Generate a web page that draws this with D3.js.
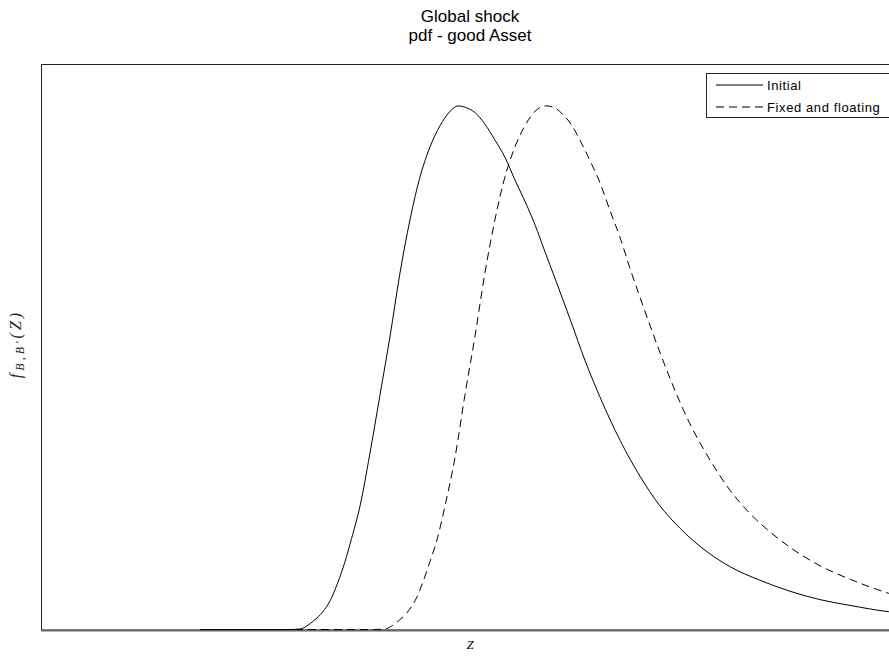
<!DOCTYPE html>
<html>
<head>
<meta charset="utf-8">
<script src="https://cdn.jsdelivr.net/npm/d3@7/dist/d3.min.js"></script>
<style>
  html, body { margin: 0; padding: 0; background: #fff; }
  svg { display: block; }
</style>
</head>
<body>
<svg id="chart" width="889" height="657"></svg>
<script>
// Density of the good asset before and after the global shock
const zInitial = [1.85, 2.44, 2.90, 3.02, 3.10, 3.18, 3.28, 3.37, 3.46, 3.54, 3.62, 3.72, 3.83, 3.95, 4.07, 4.18, 4.30, 4.42, 4.53, 4.65, 4.77, 4.86, 4.95, 5.06, 5.17, 5.29, 5.41, 5.52, 5.64, 5.76, 5.87, 5.99, 6.17, 6.34, 6.52, 6.75, 6.98, 7.21, 7.45, 7.68, 8.03, 8.38, 8.73, 9.08, 9.43, 9.88, 10.0];
const fInitial = [0, 0, 0, 0.001, 0.007, 0.017, 0.033, 0.055, 0.090, 0.128, 0.174, 0.237, 0.333, 0.447, 0.562, 0.677, 0.782, 0.866, 0.920, 0.962, 0.990, 1.000, 0.997, 0.987, 0.966, 0.935, 0.901, 0.860, 0.818, 0.772, 0.723, 0.671, 0.591, 0.514, 0.442, 0.361, 0.293, 0.237, 0.193, 0.159, 0.120, 0.094, 0.073, 0.057, 0.046, 0.034, 0.032];

const zFixed = [2.96, 3.48, 3.89, 4.01, 4.09, 4.17, 4.27, 4.36, 4.45, 4.53, 4.62, 4.71, 4.83, 4.94, 5.06, 5.17, 5.29, 5.41, 5.52, 5.64, 5.76, 5.89, 5.98, 6.08, 6.19, 6.28, 6.40, 6.52, 6.63, 6.75, 6.86, 6.98, 7.16, 7.33, 7.56, 7.80, 8.03, 8.26, 8.50, 8.73, 9.10, 9.43, 9.88, 10.0];
const fFixed = [0, 0, 0, 0.001, 0.007, 0.017, 0.033, 0.055, 0.090, 0.128, 0.174, 0.237, 0.333, 0.447, 0.562, 0.677, 0.782, 0.866, 0.920, 0.962, 0.990, 1.000, 0.997, 0.984, 0.962, 0.935, 0.895, 0.851, 0.801, 0.748, 0.692, 0.635, 0.553, 0.480, 0.394, 0.323, 0.266, 0.222, 0.186, 0.157, 0.120, 0.096, 0.069, 0.063];

const seriesNames = ["Initial", "Fixed and floating"];
const titleLines = ["Global shock", "pdf - good Asset"];

const svg = d3.select("#chart");
const plotLeft = 41, plotTop = 64, plotRight = 899, plotBottom = 629.5;

const x = d3.scaleLinear().domain([0, 10]).range([plotLeft, plotRight]);
const y = d3.scaleLinear().domain([0, 1.08]).range([plotBottom, plotTop]);

// axes frame
svg.append("rect")
  .attr("x", plotLeft + 0.5).attr("y", plotTop + 0.5)
  .attr("width", plotRight - plotLeft).attr("height", plotBottom - plotTop)
  .attr("fill", "none").attr("stroke", "#222").attr("stroke-width", 1);
svg.append("line")
  .attr("x1", plotLeft).attr("x2", plotRight)
  .attr("y1", plotBottom + 1).attr("y2", plotBottom + 1)
  .attr("stroke", "#666").attr("stroke-width", 2);

const line = d3.line()
  .x(d => x(d[0])).y(d => y(d[1]))
  .curve(d3.curveMonotoneX);

const series = [
  { name: seriesNames[0], pts: d3.zip(zInitial, fInitial), dash: null },
  { name: seriesNames[1], pts: d3.zip(zFixed, fFixed), dash: "8,5" }
];

svg.selectAll("path.series").data(series).join("path")
  .attr("class", "series")
  .attr("d", d => line(d.pts))
  .attr("fill", "none")
  .attr("stroke", "#000")
  .attr("stroke-width", 1)
  .attr("stroke-dasharray", d => d.dash);

// title
const title = svg.append("text")
  .attr("x", (plotLeft + plotRight) / 2).attr("text-anchor", "middle")
  .attr("font-family", "Liberation Sans, Arial, sans-serif")
  .attr("font-size", 17).attr("fill", "#000");
titleLines.forEach((t, i) => {
  title.append("tspan").attr("x", (plotLeft + plotRight) / 2).attr("y", 22 + i * 19).text(t);
});

// x label
svg.append("text")
  .attr("x", (plotLeft + plotRight) / 2).attr("y", 649)
  .attr("text-anchor", "middle")
  .attr("font-family", "Liberation Serif, serif")
  .attr("font-style", "italic")
  .attr("font-size", 13).text("Z");

// y label
const yl = svg.append("text")
  .attr("transform", `translate(21,344) rotate(-90)`)
  .attr("text-anchor", "middle")
  .attr("font-family", "Liberation Serif, serif")
  .attr("font-style", "italic")
  .attr("fill", "#222")
  .attr("letter-spacing", 3)
  .attr("font-size", 16);
yl.append("tspan").text("f");
yl.append("tspan").attr("font-size", 12).attr("dy", 3).text("B,B'");
yl.append("tspan").attr("dy", -3).text("(Z)");

// legend
const lg = svg.append("g");
lg.append("rect")
  .attr("x", 706.5).attr("y", 73.5).attr("width", 188).attr("height", 44)
  .attr("fill", "#fff").attr("stroke", "#222");
series.forEach((s, i) => {
  const yy = 85 + i * 22;
  lg.append("line")
    .attr("x1", 716).attr("x2", 763).attr("y1", yy).attr("y2", yy)
    .attr("stroke", "#000").attr("stroke-dasharray", s.dash);
  lg.append("text")
    .attr("x", 767).attr("y", yy + 4.5)
    .attr("font-family", "Liberation Sans, Arial, sans-serif")
    .attr("letter-spacing", 0.6)
    .attr("font-size", 13).text(s.name);
});
</script>
</body>
</html>
